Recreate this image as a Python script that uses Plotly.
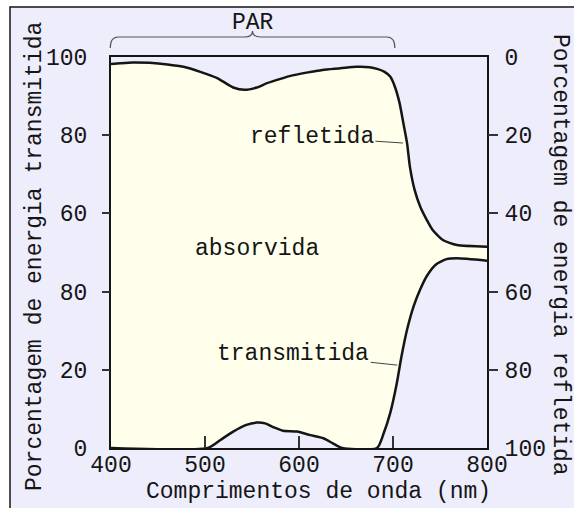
import plotly.graph_objects as go

# ---- data ----
wl_refl = [400, 410, 423, 441, 460, 477, 495, 513, 530, 542, 555, 566, 583, 590,
           608, 625, 644, 661, 675, 684, 691, 697, 702, 707, 711, 715, 718, 723,
           729, 736, 742, 753, 768, 800]
refl_pct = [1.8, 1.6, 1.4, 1.5, 1.9, 2.5, 3.8, 5.4, 7.8, 8.4, 7.8, 6.7, 5.4, 4.9,
            4.0, 3.3, 2.9, 2.5, 2.6, 3.1, 3.8, 5.0, 7.6, 11.8, 16.9, 22.1, 28.1, 34.0,
            38.3, 41.7, 44.2, 46.8, 48.1, 48.5]

wl_trans = [400, 503, 516, 530, 544, 555, 564, 573, 583, 598, 612, 626, 636, 646,
            683, 690, 697, 704, 709, 715, 722, 729, 736, 746, 757, 768, 800]
trans_pct = [0, 0, 2.0, 4.2, 5.9, 6.5, 6.3, 5.3, 4.4, 4.2, 3.3, 2.5, 1.2, 0,
             0, 3.7, 8.9, 16.5, 23.4, 30.3, 36.3, 40.6, 44.0, 47.0, 48.3, 48.5, 47.9]

x_ticks = [400, 500, 600, 700, 800]
x_ticktext = ["400", "500", "600", "700", "800"]
left_ticks = [0, 20, 40, 60, 80, 100]
left_ticktext = ["0", "20", "80", "60", "80", "100"]
right_ticks = [0, 20, 40, 60, 80, 100]
right_ticktext = ["0", "20", "40", "60", "80", "100"]
par_range = [400, 700]

FONT = "Liberation Mono"
FS = 23
LAV = "#EDEDFC"
YEL = "#FFFFEC"
INK = "#151515"

# plot-area geometry in pixels
W, H = 574, 508
L, R, T, B = 111, 87, 57, 60
PW, PH = W - L - R, H - T - B


def px(xp):
    return (xp - L) / PW


def py(yp):
    return (H - B - yp) / PH


absorbed_top = [100 - v for v in refl_pct]

fig = go.Figure()
fig.add_trace(go.Scatter(x=wl_trans, y=trans_pct, mode="lines",
                         line=dict(color=INK, width=2.5, shape="spline", smoothing=0.6),
                         hoverinfo="skip", showlegend=False))
fig.add_trace(go.Scatter(x=wl_refl, y=absorbed_top, mode="lines", fill="tonexty",
                         fillcolor=YEL,
                         line=dict(color=INK, width=2.5, shape="spline", smoothing=0.6),
                         hoverinfo="skip", showlegend=False))
# empty traces so the overlaid axes (labels / tick marks) are drawn
for xa_, ya_ in [("x2", "y"), ("x", "y2"), ("x", "y3"), ("x", "y4")]:
    fig.add_trace(go.Scatter(x=[], y=[], xaxis=xa_, yaxis=ya_, mode="lines",
                             hoverinfo="skip", showlegend=False))

tickfont = dict(family=FONT, size=FS, color=INK)

fig.update_layout(
    width=W, height=H,
    margin=dict(l=L, r=R, t=T, b=B, pad=0, autoexpand=False),
    paper_bgcolor="white",
    plot_bgcolor=LAV,
    showlegend=False,
    xaxis=dict(range=[400, 800], tickvals=x_ticks, ticktext=x_ticktext,
               ticks="", ticklabelstandoff=-6,
               tickfont=tickfont, showgrid=False, zeroline=False, automargin=False,
               showline=True, mirror=True, linecolor=INK, linewidth=2),
    xaxis2=dict(range=[400, 800], overlaying="x", anchor="y",
                tickvals=[500, 600, 700], ticks="inside", ticklen=12,
                tickcolor="#333", tickwidth=1.5, showticklabels=False,
                showgrid=False, zeroline=False, showline=False, automargin=False),
    yaxis=dict(range=[0, 100], tickvals=left_ticks, ticktext=left_ticktext,
               ticks="outside", ticklen=17, tickcolor="rgba(0,0,0,0)",
               tickfont=tickfont, showgrid=False, zeroline=False, automargin=False,
               showline=True, mirror=True, linecolor=INK, linewidth=2),
    yaxis2=dict(range=[100, 0], overlaying="y", side="right", anchor="x",
                tickvals=right_ticks, ticktext=right_ticktext,
                ticks="outside", ticklen=12, tickcolor="rgba(0,0,0,0)",
                tickfont=tickfont, showgrid=False, zeroline=False, showline=False,
                automargin=False),
    yaxis3=dict(range=[0, 100], overlaying="y", side="left", anchor="x",
                tickvals=[20, 40, 60, 80], ticks="outside", ticklen=8,
                tickcolor="#333", tickwidth=1.5, showticklabels=False,
                showgrid=False, zeroline=False, showline=False, automargin=False),
    yaxis4=dict(range=[100, 0], overlaying="y", side="right", anchor="x",
                tickvals=[20, 40, 60, 80], ticks="outside", ticklen=10,
                tickcolor="#333", tickwidth=1.5, showticklabels=False,
                showgrid=False, zeroline=False, showline=False, automargin=False),
)

# outer frame (only left and top edges fall inside the picture)
fig.add_shape(type="rect", xref="paper", yref="paper",
              x0=px(10), x1=px(590), y0=py(525), y1=py(7),
              fillcolor=LAV, line=dict(color=INK, width=1.5), layer="below")

# PAR brace
xa = (par_range[0] - 400) / 400 - 0.002
xb = (par_range[1] - 400) / 400 + 0.005
xm = (xa + xb) / 2
ye, yh, yt = py(48), py(37), py(31)
dx = 8 / PW
path = (f"M {xa},{ye} Q {xa},{yh} {xa+dx},{yh} L {xm-dx},{yh} "
        f"Q {xm},{yh} {xm},{yt} Q {xm},{yh} {xm+dx},{yh} L {xb-dx},{yh} "
        f"Q {xb},{yh} {xb},{ye}")
fig.add_shape(type="path", xref="paper", yref="paper", path=path,
              line=dict(color="#555", width=1.2))

txt = dict(family=FONT, size=FS, color=INK)
fig.add_annotation(text="PAR", xref="paper", yref="paper", x=xm, y=py(23),
                   showarrow=False, font=txt, xanchor="center", yanchor="middle")
fig.add_annotation(text="absorvida", x=555, y=51, showarrow=False, font=txt)
fig.add_annotation(text="refletida", x=710.6, y=78.0, ax=-91, ay=-6,
                   showarrow=True, arrowhead=0, arrowwidth=1, arrowcolor="#444",
                   standoff=0, font=txt)
fig.add_annotation(text="transmitida", x=704.5, y=21.2, ax=-104, ay=-11,
                   showarrow=True, arrowhead=0, arrowwidth=1, arrowcolor="#444",
                   standoff=0, font=txt)

# axis titles
fig.add_annotation(text="Comprimentos de onda (nm)", xref="paper", yref="paper",
                   x=px(318.5), y=py(492), showarrow=False, font=txt,
                   xanchor="center", yanchor="middle")
fig.add_annotation(text="Porcentagem de energia transmitida", xref="paper", yref="paper",
                   x=px(35), y=py(257), showarrow=False, font=txt, textangle=-90,
                   xanchor="center", yanchor="middle")
fig.add_annotation(text="Porcentagem de energia refletida", xref="paper", yref="paper",
                   x=px(560), y=py(255), showarrow=False, font=txt, textangle=90,
                   xanchor="center", yanchor="middle")

fig.write_html("out.html", config={"displayModeBar": False},
               post_script="document.body.style.margin='0';"
                           "document.body.style.overflow='hidden';")
